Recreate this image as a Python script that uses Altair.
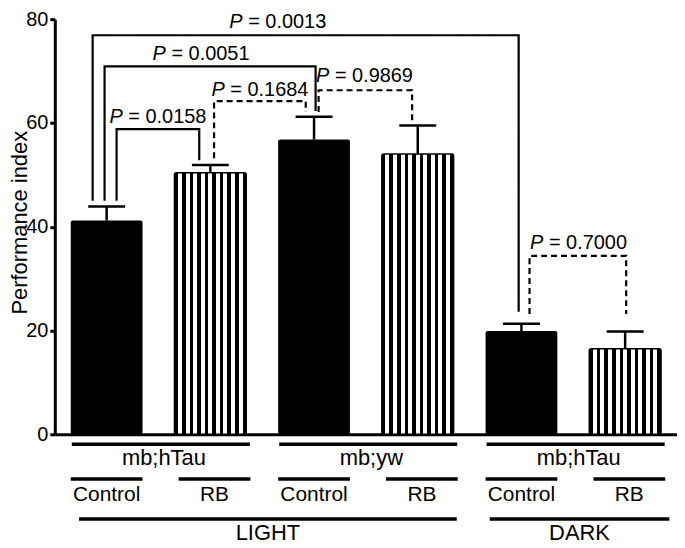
import altair as alt
import pandas as pd

# ---------------- data ----------------
genotype = ["mb;hTau", "mb;hTau", "mb;yw", "mb;yw", "mb;hTau", "mb;hTau"]
treatment = ["Control", "RB", "Control", "RB", "Control", "RB"]
condition = ["LIGHT", "LIGHT", "LIGHT", "LIGHT", "DARK", "DARK"]
mean_pi = [41.2, 50.4, 56.8, 54.0, 19.9, 16.5]
upper_pi = [43.9, 51.9, 61.2, 59.5, 21.3, 19.8]

# significance brackets (bar indices, heights in performance-index units)
br_p = ["0.0013", "0.0051", "0.1684", "0.9869", "0.0158", "0.7000"]
br_from = [0, 0, 1, 2, 0, 4]
br_to = [4, 2, 2, 3, 1, 5]
br_from_off = [-0.135, -0.02, 0.036, 0.044, 0.096, 0.078]
br_to_off = [-0.027, 0.015, -0.08, -0.054, -0.107, 0.01]
br_top = [76.9, 70.9, 64.2, 66.3, 58.8, 34.4]
br_left_end = [45.0, 45.0, 53.2, 62.1, 45.0, 23.2]
br_right_end = [23.6, 62.3, 62.1, 60.4, 52.8, 23.2]
br_dashed = [False, False, True, True, False, True]
br_label_x = [1.65, 0.91, 1.478, 2.486, 0.494, 4.55]
br_label_y = [78.3, 72.2, 65.2, 67.8, 59.9, 35.7]

# grouping rows below the axis
geno_groups = [("mb;hTau", 0, 1), ("mb;yw", 2, 3), ("mb;hTau", 4, 5)]
cond_groups = [("LIGHT", 0, 3), ("DARK", 4, 5)]

# ---------------- tables ----------------
HALF = 0.346
CAP = 0.178
bars = pd.DataFrame({
    "idx": list(range(6)),
    "genotype": genotype,
    "treatment": treatment,
    "condition": condition,
    "mean": mean_pi,
    "upper": upper_pi,
})
bars["lo"] = bars["idx"] - HALF
bars["hi"] = bars["idx"] + HALF
bars["cap_lo"] = bars["idx"] - CAP
bars["cap_hi"] = bars["idx"] + CAP

rows = []
for k in range(len(br_p)):
    xl = br_from[k] + br_from_off[k]
    xr = br_to[k] + br_to_off[k]
    st = "dashed" if br_dashed[k] else "solid"
    pts = [(xl, br_left_end[k]), (xl, br_top[k]), (xr, br_top[k]), (xr, br_right_end[k])]
    for o, (px, py) in enumerate(pts):
        rows.append({"id": k, "ord": o, "x": px, "y": py, "style": st})
brackets = pd.DataFrame(rows)
labels = pd.DataFrame({"x": br_label_x, "y": br_label_y,
                       "p": ["P"] * len(br_p), "rest": ["= " + v for v in br_p]})

treat_lines = bars[["idx", "treatment"]].copy()
treat_lines["x1"] = treat_lines["idx"] - HALF + [0.0, 0.04] * 3
treat_lines["x2"] = treat_lines["idx"] + HALF + [0.0, 0.04] * 3
treat_lines["xm"] = (treat_lines["x1"] + treat_lines["x2"]) / 2

geno_lines = pd.DataFrame([{"name": n, "x1": a - HALF + 0.01, "x2": b + HALF + 0.035}
                           for n, a, b in geno_groups])
geno_lines["xm"] = (geno_lines["x1"] + geno_lines["x2"]) / 2 + 0.03
cond_lines = pd.DataFrame([{"name": n, "x1": a - HALF + (0.08 if a == 0 else 0.04),
                            "x2": b + HALF + (0.03 if b == 3 else 0.08)}
                           for n, a, b in cond_groups])
cond_lines["xm"] = (cond_lines["x1"] + cond_lines["x2"]) / 2

# ---------------- chart ----------------
FONT = "Liberation Sans"
xs = alt.Scale(domain=[-0.5, 5.5], nice=False, zero=False)
ys = alt.Scale(domain=[0, 80], nice=False)

xaxis = alt.Axis(labels=False, ticks=False, grid=False, title=None,
                 domainWidth=3, domainColor="black")
yaxis = alt.Axis(values=[0, 20, 40, 60, 80], grid=False, title="Performance index",
                 domainWidth=3, domainColor="black", tickWidth=3, tickColor="black",
                 tickSize=5, labelFontSize=20, labelColor="black", labelPadding=2,
                 labelFont=FONT, titleFont=FONT, titleFontSize=22,
                 titleFontWeight="normal", titleColor="black", titleAngle=270,
                 titleX=-35, titleY=204, titleAlign="center", titleBaseline="middle")


def X(field):
    return alt.X(field, scale=xs, axis=xaxis)


def Y(field):
    return alt.Y(field, scale=ys, axis=yaxis)


stops = []
nb = 10
bw = 0.05
ww = (1 - nb * bw) / (nb - 1)
for k in range(nb):
    s = k * (bw + ww)
    stops.append(alt.GradientStop(offset=min(s, 1), color="black"))
    stops.append(alt.GradientStop(offset=min(s + bw, 1), color="black"))
    if k < nb - 1:
        stops.append(alt.GradientStop(offset=min(s + bw, 1), color="white"))
        stops.append(alt.GradientStop(offset=min(s + bw + ww, 1), color="white"))
stripe = alt.Gradient(gradient="linear", stops=stops, x1=0, x2=1, y1=0, y2=0)

base = alt.Chart(bars)

black_bars = base.transform_filter(alt.datum.treatment == "Control").mark_bar(
    color="black", cornerRadius=2).encode(
    x=X("lo:Q"), x2="hi:Q", y=Y("mean:Q"), y2=alt.datum(0))

striped_bars = base.transform_filter(alt.datum.treatment == "RB").mark_bar(
    fill=stripe, stroke="black", strokeWidth=1.5, cornerRadius=2).encode(
    x=X("lo:Q"), x2="hi:Q", y=Y("mean:Q"), y2=alt.datum(0))

err_v = base.mark_rule(color="black", strokeWidth=2.5).encode(
    x=X("idx:Q"), y=Y("mean:Q"), y2="upper:Q")
err_cap = base.mark_rule(color="black", strokeWidth=2.5).encode(
    x=X("cap_lo:Q"), x2="cap_hi:Q", y=Y("upper:Q"))

br = alt.Chart(brackets).mark_line(color="black", strokeWidth=2.2,
                                   strokeJoin="miter", strokeCap="butt").encode(
    x=X("x:Q"), y=Y("y:Q"),
    detail="id:N", order="ord:Q",
    strokeDash=alt.StrokeDash("style:N", legend=None,
                              scale=alt.Scale(domain=["solid", "dashed"],
                                              range=[[1, 0], [6, 4]])))

lab_p = alt.Chart(labels).mark_text(align="right", baseline="alphabetic", dx=-35.3,
                                    fontSize=20, font=FONT, fontStyle="italic",
                                    color="black").encode(
    x=X("x:Q"), y=Y("y:Q"), text="p:N")
lab_rest = alt.Chart(labels).mark_text(align="left", baseline="alphabetic", dx=-29.7,
                                       fontSize=20, font=FONT, color="black").encode(
    x=X("x:Q"), y=Y("y:Q"), text="rest:N")

# rows beneath the axis
geno_rule = alt.Chart(geno_lines).mark_rule(color="black", strokeWidth=3.5).encode(
    x=X("x1:Q"), x2="x2:Q", y=alt.value(427))
geno_text = alt.Chart(geno_lines).mark_text(fontSize=22, font=FONT, color="black",
                                            baseline="alphabetic").encode(
    x=X("xm:Q"), y=alt.value(448), text="name:N")
treat_rule = alt.Chart(treat_lines).mark_rule(color="black", strokeWidth=3.5).encode(
    x=X("x1:Q"), x2="x2:Q", y=alt.value(462))
treat_text = alt.Chart(treat_lines).mark_text(fontSize=21, font=FONT, color="black",
                                              baseline="alphabetic").encode(
    x=X("xm:Q"), y=alt.value(484), text="treatment:N")
cond_rule = alt.Chart(cond_lines).mark_rule(color="black", strokeWidth=3.5).encode(
    x=X("x1:Q"), x2="x2:Q", y=alt.value(502))
cond_text = alt.Chart(cond_lines).mark_text(fontSize=22, font=FONT, color="black",
                                            baseline="alphabetic").encode(
    x=X("xm:Q"), y=alt.value(523), text="name:N")

chart = alt.layer(
    black_bars, striped_bars, err_v, err_cap, br, lab_p, lab_rest,
    geno_rule, geno_text, treat_rule, treat_text, cond_rule, cond_text
).properties(
    width=625, height=417,
    background="white",
    autosize=alt.AutoSizeParams(type="none"),
    padding={"left": 47, "top": 10, "right": 0, "bottom": 112},
).configure_view(stroke=None)

chart.save("out.html", embed_options={"renderer": "svg", "actions": False})
